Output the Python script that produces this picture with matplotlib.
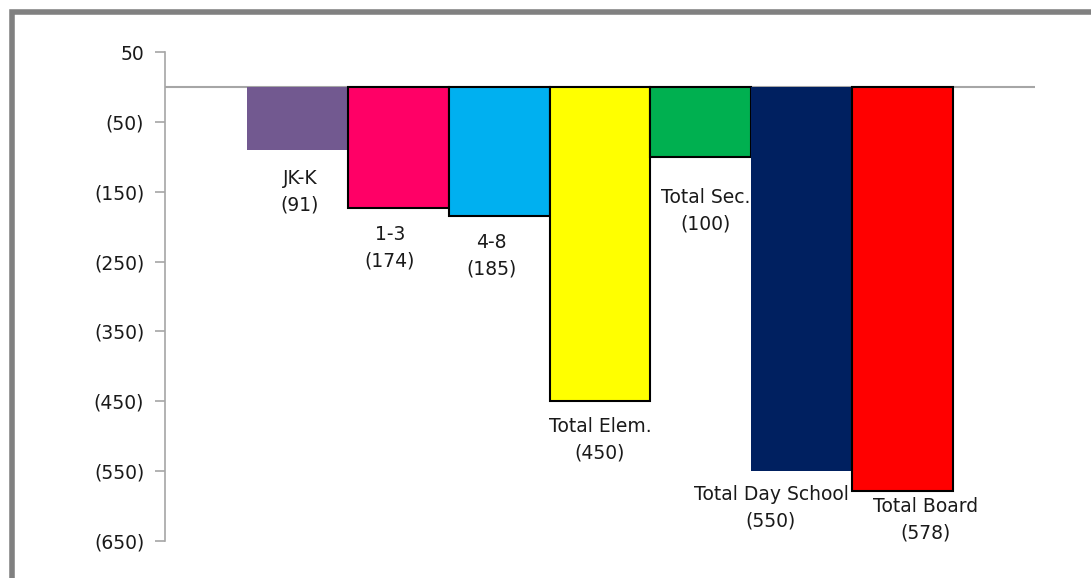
import matplotlib.pyplot as plt
from matplotlib.patches import Rectangle
from matplotlib.ticker import FuncFormatter

# data
categories = ['JK-K', '1-3', '4-8', 'Total Elem.', 'Total Sec.', 'Total Day School', 'Total Board']
values = [-91, -174, -185, -450, -100, -550, -578]
y_ticks = [50, -50, -150, -250, -350, -450, -550, -650]

colors = ['#725990', '#FF0066', '#00B0F0', '#FFFF00', '#00B050', '#002060', '#FF0000']
edges = ['none', 'black', 'black', 'black', 'black', 'none', 'black']
# label offsets in pixels (dx, dy below bar end)
offsets = [(3, 19), (-8, 17), (-8, 17), (0, 16), (5, 31), (-31, 14), (23, 6)]

fig = plt.figure(figsize=(10.91, 5.78), dpi=100)
ax = fig.add_axes([165 / 1091, 1 - 541 / 578, 870 / 1091, 489 / 578])

x = list(range(len(values)))
for i, v in enumerate(values):
    ax.bar(x[i], v, width=1.0, color=colors[i], edgecolor=edges[i], linewidth=1.5, zorder=2)
    dx, dy = offsets[i]
    ax.annotate(f'{categories[i]}\n({-v})', xy=(x[i], v), xytext=(dx * 0.72, -dy * 0.72),
                textcoords='offset points', ha='center', va='top', fontsize=13.5,
                linespacing=1.5, color='#1a1a1a')

ax.axhline(0, color='#a6a6a6', linewidth=1.5, zorder=1)
ax.set_xlim(-1.307, 7.307)
ax.set_ylim(-650, 50)
ax.set_yticks(y_ticks)
ax.yaxis.set_major_formatter(FuncFormatter(lambda v, p: f'({-int(v)})' if v < 0 else f'{int(v)}'))
ax.tick_params(axis='y', direction='out', length=7, width=1.2, color='#a6a6a6',
               labelsize=13.5, pad=8, labelcolor='#1a1a1a')
ax.set_xticks([])
for s in ['top', 'right', 'bottom']:
    ax.spines[s].set_visible(False)
ax.spines['left'].set_color('#a6a6a6')
ax.spines['left'].set_linewidth(1.2)

# outer gray frame
fig.patches.append(Rectangle((12 / 1091, -0.05), 1.1, 1 - 12 / 578 + 0.05,
                             transform=fig.transFigure, fill=False,
                             edgecolor='#808080', linewidth=4))

fig.savefig('out.png', dpi=100)
